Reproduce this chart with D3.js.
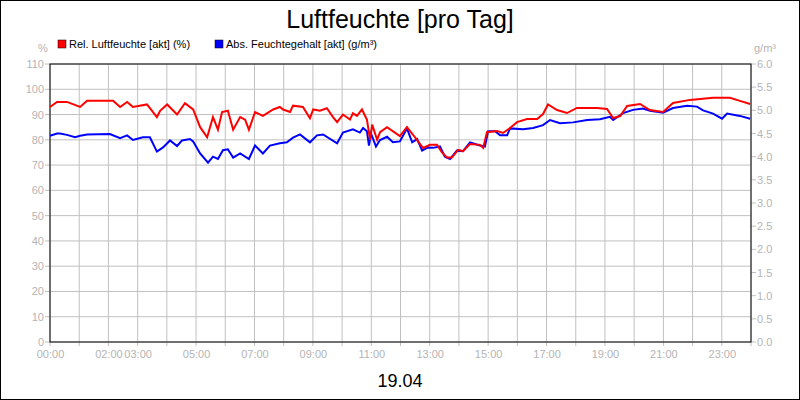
<!DOCTYPE html>
<html><head><meta charset="utf-8">
<script src="https://cdn.jsdelivr.net/npm/d3@7"></script>
<style>body{margin:0;background:#fff}svg{display:block;font-family:Arial,"Liberation Sans",sans-serif}</style>
</head><body><svg id="c" width="800" height="400"></svg>
<script>
const relTime=[0,.24,.58,1.03,1.27,2.16,2.40,2.64,2.84,3.32,3.66,3.77,4.01,4.35,4.62,4.90,5.14,5.38,5.58,5.75,5.89,6.09,6.27,6.51,6.68,6.81,7.02,7.29,7.64,7.87,7.98,8.22,8.32,8.66,8.90,9.01,9.24,9.48,9.69,9.83,10.03,10.27,10.37,10.51,10.68,10.85,10.96,11.03,11.20,11.30,11.54,11.98,12.22,12.43,12.77,13.01,13.25,13.42,13.59,13.76,13.97,14.14,14.38,14.72,14.83,14.96,15.31,15.51,15.75,15.99,16.33,16.68,16.88,17.05,17.36,17.70,18.04,18.73,19.07,19.28,19.52,19.76,20.20,20.54,20.99,21.33,21.91,22.70,23.28,23.62,23.97];
const relValues=[93,95,95,93,95.5,95.5,93,95,93,94,89,91.5,94,90,94.5,92,85,81,89,84,91,91.5,84,89,88,84,91,89.5,92,93,92,91,93.5,93,88.5,92,91.5,92.5,89,87,90,88,90.5,89.5,92,88,80,86,80,83,85,81.5,85,82,76.8,78,78,75,73,73,76,75.5,78.3,78,76.8,83,83.5,82.7,84.7,87,88.2,88.2,90.2,94,91.8,90.6,92.6,92.6,92.2,88.6,89.4,93.4,94.2,91.8,91,94.6,95.8,96.6,96.6,95.4,94.2];
const absTime=[0,.24,.34,.58,.86,1.03,1.27,2.05,2.40,2.64,2.84,3.18,3.42,3.66,3.87,4.11,4.35,4.52,4.79,4.90,5.14,5.41,5.58,5.75,5.92,6.09,6.27,6.51,6.81,7.02,7.29,7.53,7.87,8.11,8.32,8.56,8.90,9.14,9.35,9.83,10.03,10.37,10.61,10.72,10.85,10.92,10.99,11.16,11.30,11.54,11.74,11.98,12.22,12.40,12.57,12.74,12.94,13.11,13.35,13.52,13.70,13.93,14.14,14.38,14.72,14.89,15.0,15.24,15.41,15.65,15.75,16.20,16.54,16.88,17.12,17.46,17.91,18.39,18.83,19.17,19.28,19.62,19.96,20.30,20.54,20.99,21.33,21.81,22.15,22.36,22.70,23.01,23.18,23.62,23.97];
const absValues=[4.45,4.5,4.5,4.47,4.42,4.45,4.48,4.49,4.4,4.46,4.36,4.42,4.42,4.11,4.2,4.35,4.23,4.35,4.38,4.33,4.07,3.87,4.0,3.95,4.14,4.16,3.98,4.07,3.95,4.24,4.07,4.24,4.29,4.31,4.41,4.48,4.31,4.46,4.48,4.29,4.52,4.59,4.52,4.62,4.55,4.24,4.5,4.22,4.36,4.43,4.31,4.33,4.61,4.31,4.38,4.13,4.2,4.19,4.22,4.0,3.95,4.13,4.12,4.31,4.24,4.22,4.55,4.55,4.46,4.46,4.61,4.59,4.62,4.68,4.79,4.72,4.74,4.79,4.81,4.86,4.79,4.94,5.01,5.04,4.99,4.95,5.05,5.1,5.08,5.0,4.93,4.82,4.93,4.88,4.82];
const leftTicks=[0,10,20,30,40,50,60,70,80,90,100,110];
const rightTicks=[0,0.5,1,1.5,2,2.5,3,3.5,4,4.5,5,5.5,6];
const hourTicks=d3.range(0,25);
const hourLabels={0:"00:00",2:"02:00",3:"03:00",5:"05:00",7:"07:00",9:"09:00",11:"11:00",13:"13:00",15:"15:00",17:"17:00",19:"19:00",21:"21:00",23:"23:00"};
const seriesNames=["Rel. Luftfeuchte [akt] (%)","Abs. Feuchtegehalt [akt] (g/m³)"];

const svg=d3.select("#c");
const L=50,R=751,T=64,B=342,grey="#b4b4b4";
svg.append("rect").attr("x",0.5).attr("y",0.5).attr("width",799).attr("height",399).attr("fill","#fff").attr("stroke","#000");
const x=d3.scaleLinear().domain([0,24]).range([L,R]);
const yL=d3.scaleLinear().domain([0,110]).range([B,T]);
const yR=d3.scaleLinear().domain([0,6]).range([B,T]);
const g=svg.append("g");
hourTicks.forEach(h=>{g.append("line").attr("x1",x(h)).attr("x2",x(h)).attr("y1",T).attr("y2",B+4).attr("stroke","#c0c0c0");});
leftTicks.forEach(v=>{g.append("line").attr("x1",L-5).attr("x2",R).attr("y1",yL(v)).attr("y2",yL(v)).attr("stroke","#c0c0c0");});
rightTicks.forEach(v=>{g.append("line").attr("x1",R).attr("x2",R+5).attr("y1",yR(v)).attr("y2",yR(v)).attr("stroke","#c0c0c0");});
svg.append("g").attr("transform",`translate(${L-6},0)`).call(d3.axisLeft(yL).tickValues(leftTicks).tickSize(0).tickPadding(0))
 .call(a=>{a.select(".domain").remove();a.selectAll("text").attr("fill",grey).attr("font-size",11);});
svg.append("g").attr("transform",`translate(${R+6},0)`).call(d3.axisRight(yR).tickValues(rightTicks).tickSize(0).tickPadding(0).tickFormat(d3.format(".1f")))
 .call(a=>{a.select(".domain").remove();a.selectAll("text").attr("fill",grey).attr("font-size",11);});
svg.append("g").attr("transform",`translate(0,${B+8})`).call(d3.axisBottom(x).tickValues(Object.keys(hourLabels).map(Number)).tickSize(0).tickPadding(0).tickFormat(d=>hourLabels[d]))
 .call(a=>{a.select(".domain").remove();a.selectAll("text").attr("fill",grey).attr("font-size",11);});
svg.append("rect").attr("x",L).attr("y",T).attr("width",R-L).attr("height",B-T).attr("fill","none").attr("stroke","#000");
const lineRel=d3.line().x((d,i)=>x(relTime[i])).y(d=>yL(d));
const lineAbs=d3.line().x((d,i)=>x(absTime[i])).y(d=>yR(d));
svg.append("path").attr("d",lineAbs(absValues)).attr("fill","none").attr("stroke","#0000ff").attr("stroke-width",2);
svg.append("path").attr("d",lineRel(relValues)).attr("fill","none").attr("stroke","#ff0000").attr("stroke-width",2);
svg.append("text").attr("x",400).attr("y",28).attr("text-anchor","middle").attr("font-size",25).text("Luftfeuchte [pro Tag]");
svg.append("text").attr("x",400).attr("y",387).attr("text-anchor","middle").attr("font-size",18).text("19.04");
svg.append("text").attr("x",43).attr("y",52).attr("text-anchor","middle").attr("fill",grey).attr("font-size",11).text("%");
svg.append("text").attr("x",765).attr("y",52).attr("text-anchor","middle").attr("fill",grey).attr("font-size",11).text("g/m³");
[[58,"#ff0000"],[215,"#0000ff"]].forEach(([lx,c],i)=>{
 svg.append("rect").attr("x",lx).attr("y",40).attr("width",8).attr("height",8).attr("fill",c).attr("stroke","#000").attr("stroke-width",0.5);
 svg.append("text").attr("x",lx+11).attr("y",48).attr("font-size",11).text(seriesNames[i]);
});
</script></body></html>
